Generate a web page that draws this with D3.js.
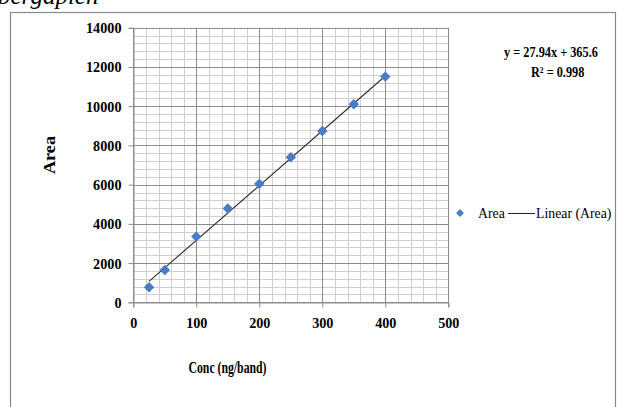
<!DOCTYPE html>
<html>
<head>
<meta charset="utf-8">
<script src="https://cdn.jsdelivr.net/npm/d3@7/dist/d3.min.js"></script>
<style>
  html, body { margin: 0; padding: 0; background: #fff; }
  svg { display: block; }
  text { font-family: "Liberation Serif", "Times New Roman", serif; fill: #000; }
</style>
</head>
<body>
<svg id="chart" width="617" height="407"></svg>
<script>
// Calibration data: concentration (ng/band) vs. peak area
const conc = [25, 50, 100, 150, 200, 250, 300, 350, 400];
const area = [765, 1650, 3350, 4780, 6040, 7400, 8740, 10100, 11510];

// Linear trendline reported for the series
const slope = 27.94;
const intercept = 365.6;
const rSquared = 0.998;

const xTicks = [0, 100, 200, 300, 400, 500];
const yTicks = [0, 2000, 4000, 6000, 8000, 10000, 12000, 14000];

const svg = d3.select("#chart");

// Caption fragment above the chart box
svg.append("text")
  .attr("x", -2).attr("y", 4)
  .attr("font-size", 25)
  .attr("font-style", "italic")
  .text("bergaplen");

// Chart frame
svg.append("rect")
  .attr("x", 10.5).attr("y", 12.5)
  .attr("width", 605).attr("height", 420)
  .attr("fill", "none")
  .attr("stroke", "#8a8a8a")
  .attr("stroke-width", 1.2);

const x = d3.scaleLinear().domain([0, 500]).range([133.3, 448.3]);
const y = d3.scaleLinear().domain([0, 14000]).range([302.3, 27.8]);

// Minor grid
const g = svg.append("g");
g.selectAll("line.vminor")
  .data(d3.range(0, 501, 20))
  .join("line")
  .attr("x1", d => Math.round(x(d)) + 0.5).attr("x2", d => Math.round(x(d)) + 0.5)
  .attr("y1", y(0)).attr("y2", y(14000))
  .attr("stroke", "#cfcfcf").attr("stroke-width", 1);
g.selectAll("line.hminor")
  .data(d3.range(0, 14001, 400))
  .join("line")
  .attr("y1", d => Math.round(y(d)) + 0.5).attr("y2", d => Math.round(y(d)) + 0.5)
  .attr("x1", x(0)).attr("x2", x(500))
  .attr("stroke", "#cfcfcf").attr("stroke-width", 1);

// Major grid
g.selectAll("line.vmajor")
  .data(xTicks)
  .join("line")
  .attr("x1", d => Math.round(x(d)) + 0.5).attr("x2", d => Math.round(x(d)) + 0.5)
  .attr("y1", y(0)).attr("y2", y(14000))
  .attr("stroke", "#8c8c8c").attr("stroke-width", 1);
g.selectAll("line.hmajor")
  .data(yTicks)
  .join("line")
  .attr("y1", d => Math.round(y(d)) + 0.5).attr("y2", d => Math.round(y(d)) + 0.5)
  .attr("x1", x(0)).attr("x2", x(500))
  .attr("stroke", "#8c8c8c").attr("stroke-width", 1);

// Axes
const xAxis = svg.append("g")
  .attr("transform", `translate(0,${Math.round(y(0)) + 0.5})`)
  .call(d3.axisBottom(x).tickValues(xTicks).tickSize(5).tickPadding(9).tickFormat(d3.format("d")));
const yAxis = svg.append("g")
  .attr("transform", `translate(${Math.round(x(0)) + 0.5},0)`)
  .call(d3.axisLeft(y).tickValues(yTicks).tickSize(5).tickPadding(7).tickFormat(d3.format("d")));
[xAxis, yAxis].forEach(a => {
  a.select(".domain").attr("stroke", "#8c8c8c");
  a.selectAll(".tick line").attr("stroke", "#8c8c8c");
  a.selectAll(".tick text")
    .attr("font-weight", "bold")
    .attr("font-size", 15.5)
    .attr("textLength", function () { return this.textContent.length * 7.1; })
    .attr("lengthAdjust", "spacingAndGlyphs")
    .attr("fill", "#000");
});

// Trendline
const xs = d3.extent(conc);
svg.append("line")
  .attr("x1", x(xs[0])).attr("y1", y(slope * xs[0] + intercept))
  .attr("x2", x(xs[1])).attr("y2", y(slope * xs[1] + intercept))
  .attr("stroke", "#2b2b2b").attr("stroke-width", 1.1);

// Data markers
const diamond = d3.symbol().type(d3.symbolDiamond2).size(70);
svg.selectAll("path.pt")
  .data(conc.map((c, i) => [c, area[i]]))
  .join("path")
  .attr("d", diamond)
  .attr("transform", d => `translate(${x(d[0])},${y(d[1])})`)
  .attr("fill", "#4a7bc4");

// Axis titles
svg.append("text")
  .attr("x", 227.5).attr("y", 373)
  .attr("text-anchor", "middle")
  .attr("font-weight", "bold").attr("font-size", 16)
  .attr("textLength", 78).attr("lengthAdjust", "spacingAndGlyphs")
  .text("Conc (ng/band)");
svg.append("text")
  .attr("transform", "translate(55,155) rotate(-90)")
  .attr("text-anchor", "middle")
  .attr("font-weight", "bold").attr("font-size", 16)
  .attr("textLength", 38).attr("lengthAdjust", "spacingAndGlyphs")
  .text("Area");

// Trendline equation, drawn in a horizontally condensed face
svg.append("text")
  .attr("transform", "translate(504,57) scale(0.82,1)")
  .attr("font-weight", "bold").attr("font-size", 15)
  .text(`y = ${slope}x + ${intercept}`);
svg.append("text")
  .attr("transform", "translate(531,77) scale(0.82,1)")
  .attr("font-weight", "bold").attr("font-size", 15)
  .text(`R² = ${rSquared}`);

// Legend
const lg = svg.append("g");
lg.append("path")
  .attr("d", d3.symbol().type(d3.symbolDiamond2).size(40))
  .attr("transform", "translate(460,213)")
  .attr("fill", "#4a7bc4");
lg.append("text")
  .attr("transform", "translate(478,218) scale(0.92,1)")
  .attr("font-size", 15)
  .text("Area");
lg.append("line")
  .attr("x1", 508).attr("x2", 535)
  .attr("y1", 213.5).attr("y2", 213.5)
  .attr("stroke", "#2b2b2b").attr("stroke-width", 1.1);
lg.append("text")
  .attr("transform", "translate(536,218) scale(0.92,1)")
  .attr("font-size", 15)
  .text("Linear (Area)");
</script>
</body>
</html>
